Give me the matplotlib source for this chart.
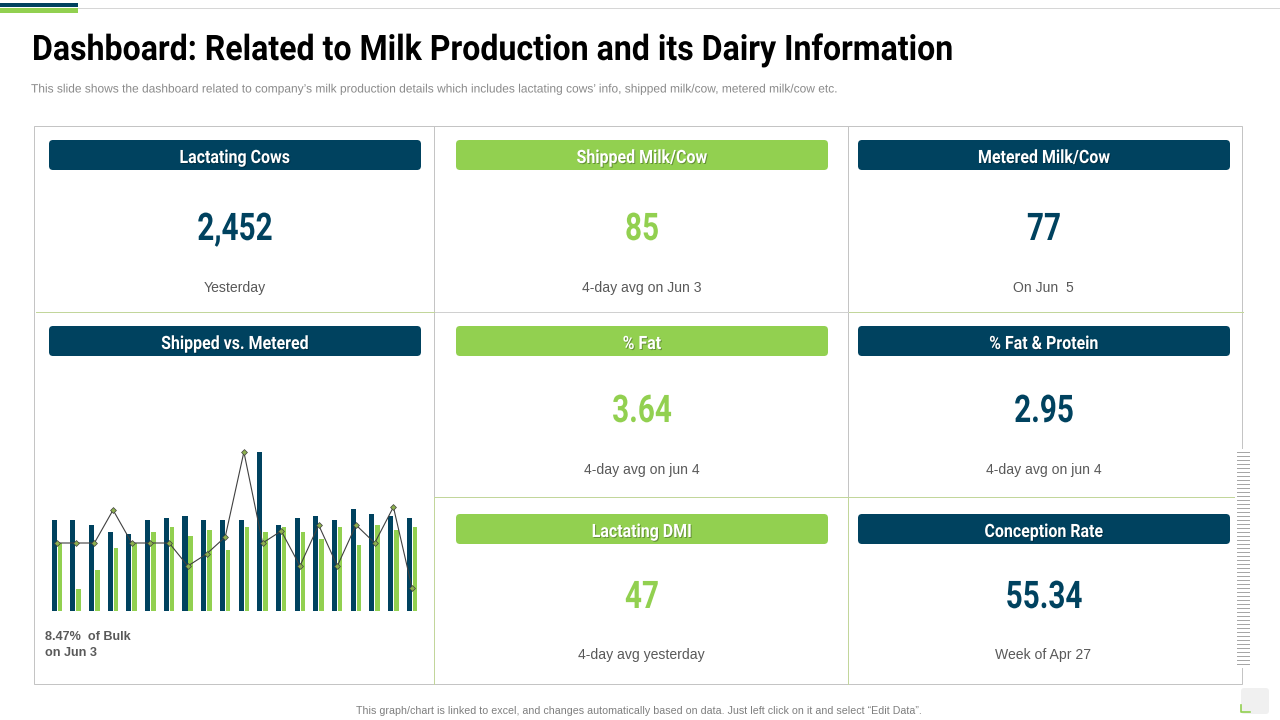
"""Milk production dashboard slide, laid out in slide pixels."""

import matplotlib

matplotlib.use("Agg")

import matplotlib.patheffects as pe  # noqa: E402
import matplotlib.pyplot as plt  # noqa: E402
import numpy as np  # noqa: E402
from matplotlib.patches import FancyBboxPatch, Rectangle  # noqa: E402
from matplotlib.transforms import Affine2D  # noqa: E402

NAVY = "#00425F"
GREEN = "#92D050"
RULE = "#C4C4C4"
PALE_GREEN = "#C2D69B"

HEAD_FONT = ["Roboto", "DejaVu Sans"]
BODY_FONT = ["Liberation Sans", "DejaVu Sans"]

TITLE = "Dashboard: Related to Milk Production and its Dairy Information"
SUBTITLE = (
    "This slide shows the dashboard related to company\u2019s milk production details "
    "which includes lactating cows\u2019 info, shipped milk/cow, metered milk/cow etc."
)
FOOTER = (
    "This graph/chart is linked to excel, and changes automatically based on data. "
    "Just left click on it and select \u201cEdit Data\u201d."
)

CARD_HEADERS = ["Lactating Cows", "Shipped Milk/Cow", "Metered Milk/Cow", "% Fat",
                "% Fat & Protein", "Lactating DMI", "Conception Rate"]
CARD_VALUES = ["2,452", "85", "77", "3.64", "2.95", "47", "55.34"]
CARD_CAPTIONS = ["Yesterday", "4-day avg on Jun 3", "On Jun  5", "4-day avg on jun 4",
                 "4-day avg on jun 4", "4-day avg yesterday", "Week of Apr 27"]
CARD_LEFT = [49, 456, 858, 456, 858, 456, 858]
CARD_TOP = [140, 140, 140, 326, 326, 514, 514]
CARD_COLOR = [NAVY, GREEN, NAVY, GREEN, NAVY, GREEN, NAVY]
VALUE_Y = [240, 240, 240, 422, 422, 608, 608]
CAPTION_Y = [292, 292, 292, 474, 474, 659, 659]

shipped = [91, 91, 86, 79, 77, 91, 93, 95, 91, 91, 91, 159, 86, 93, 95, 91, 102, 97, 95, 93]
metered = [68, 22, 41, 63, 68, 79, 84, 75, 81, 61, 84, 79, 84, 79, 72, 84, 66, 86, 81, 84]
ratio = [68, 68, 68, 101, 68, 68, 68, 45, 57, 74, 159, 68, 80, 45, 86, 45, 86, 68, 104, 23]


class Squeeze(pe.AbstractPathEffect):
    """Narrow a text horizontally about anchor, there is no condensed face installed."""

    def __init__(self, sx, anchor, shift=(0, 0), shade=None):
        super().__init__()
        self.sx = sx
        self.anchor = anchor
        self.shift = shift
        self.shade = shade

    def draw_path(self, renderer, gc, tpath, affine, rgbFace=None):
        squeeze = Affine2D().translate(-self.anchor, 0).scale(self.sx, 1).translate(self.anchor, 0)
        squeeze.translate(*self.shift)
        renderer.draw_path(gc, tpath, affine + squeeze, self.shade or rgbFace)


def pill(ax, x, y, w, h, color):
    ax.add_patch(FancyBboxPatch((x + 4, y + 4), w - 8, h - 8, boxstyle="round,pad=4,rounding_size=4",
                                fc=color, ec="none"))


def header(ax, cx, y, label):
    ax.text(cx, y, label, family=HEAD_FONT, weight="bold", fontsize=13.2, color="white",
            ha="center", va="baseline",
            path_effects=[Squeeze(0.87, cx, (1, -1), (0, 0, 0, 0.3)), Squeeze(0.87, cx)])


fig = plt.figure(figsize=(12.8, 7.2), dpi=100)
ax = fig.add_axes([0, 0, 1, 1])
ax.set_xlim(0, 1280)
ax.set_ylim(720, 0)
ax.axis("off")

# top accent
ax.plot([78, 1280], [8, 8], color="#D6D6D6", lw=0.72)
ax.add_patch(Rectangle((0, 3), 78, 4, fc=NAVY, ec="none"))
ax.add_patch(Rectangle((0, 8), 78, 5, fc=GREEN, ec="none"))

ax.text(32, 60, TITLE, family=HEAD_FONT, weight="bold", fontsize=25.3, color="black",
        ha="left", va="baseline", path_effects=[Squeeze(0.913, 32)])
ax.text(31, 89.5, SUBTITLE, family=BODY_FONT, fontsize=8.7, color="#8A8A8A", ha="left", va="center",
        path_effects=[Squeeze(0.99, 31)])

# grid of cards
ax.add_patch(Rectangle((34, 126), 1208, 558, fc="none", ec=RULE, lw=0.72))
ax.plot([434, 434], [126, 497], color=RULE, lw=0.72)
ax.plot([434, 434], [497, 684], color=PALE_GREEN, lw=0.72)
ax.plot([848, 848], [126, 497], color=RULE, lw=0.72)
ax.plot([848, 848], [497, 684], color=PALE_GREEN, lw=0.72)
ax.plot([36, 1243], [312, 312], color=PALE_GREEN, lw=0.72)
ax.plot([435, 848], [312, 312], color="#D0D0D0", lw=0.72)
ax.plot([434, 1243], [497, 497], color=PALE_GREEN, lw=0.72)

for head, val, cap, x, y, col, vy, cy in zip(CARD_HEADERS, CARD_VALUES, CARD_CAPTIONS, CARD_LEFT,
                                             CARD_TOP, CARD_COLOR, VALUE_Y, CAPTION_Y):
    pill(ax, x, y, 372, 30, col)
    header(ax, x + 186, y + 23, head)
    ax.text(x + 186, vy, val, family=HEAD_FONT, weight="bold", fontsize=27.4, color=col,
            ha="center", va="baseline", path_effects=[Squeeze(0.78, x + 186)])
    ax.text(x + 185.5, cy, cap, family=BODY_FONT, fontsize=10.1, color="#595959", ha="center", va="baseline")

pill(ax, 49, 326, 372, 30, NAVY)
header(ax, 235, 349, "Shipped vs. Metered")
ax.text(45, 645, "8.47%  of Bulk\non Jun 3", family=BODY_FONT, weight="bold", fontsize=9.1,
        color="#595959", ha="left", va="center", linespacing=1.45)

# side hatch sits on a white strip that cuts the frame
ax.add_patch(Rectangle((1235, 449), 16, 219, fc="white", ec="none", zorder=3))
for yy in np.arange(452, 666, 4):
    ax.plot([1237, 1249], [yy, yy], color="#A6A6A6", lw=0.72, zorder=4)

ax.add_patch(FancyBboxPatch((1244, 691), 22, 20, boxstyle="round,pad=3,rounding_size=3",
                            fc="#F0F0F0", ec="none"))
ax.plot([1241, 1241, 1250], [705, 712, 712], color=GREEN, lw=1.2)

ax.text(639, 710.5, FOOTER, family=BODY_FONT, fontsize=7.7, color="#7F7F7F", ha="center", va="center")

# bar and line chart
chart = fig.add_axes([47.65 / 1280, (720 - 611) / 720, 373.8 / 1280, 160 / 720])
chart.set_xlim(-0.5, 19.5)
chart.set_ylim(0, 160)
chart.axis("off")
chart.patch.set_alpha(0)
idx = np.arange(len(shipped))
chart.bar(idx - 0.15, shipped, width=0.27, color=NAVY)
chart.bar(idx + 0.155, metered, width=0.24, color=GREEN)
chart.plot(idx, ratio, color="#404040", lw=0.8, marker="D", ms=3, mfc="#8DB04F", mec="#404040",
           mew=0.5, clip_on=False)

fig.savefig("out.png", dpi=100)
